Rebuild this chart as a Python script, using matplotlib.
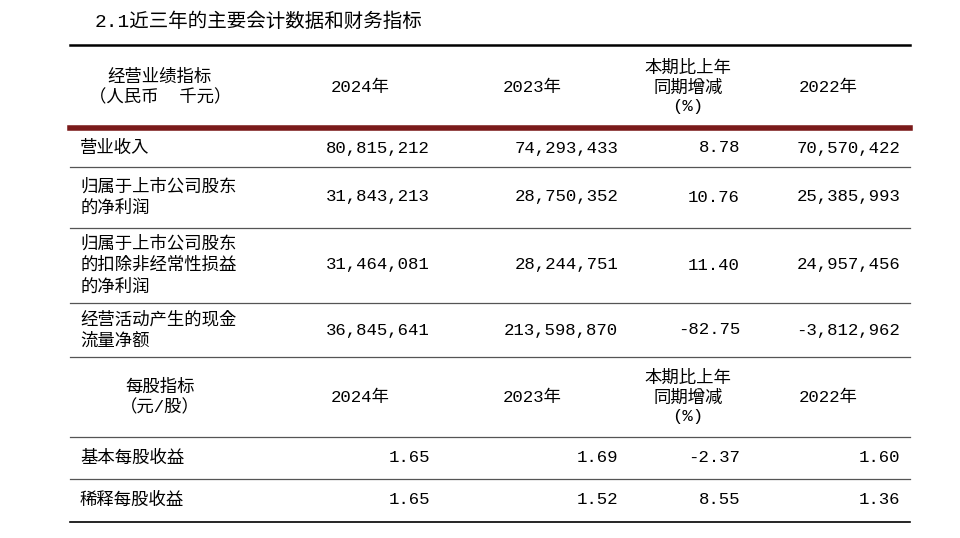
import matplotlib
matplotlib.use("Agg")
import matplotlib.pyplot as plt

title = "2.1近三年的主要会计数据和财务指标"
header1 = ["经营业绩指标\n（人民币  千元）", "2024年", "2023年", "本期比上年\n同期增减\n(%)", "2022年"]
row_labels = ["营业收入", "归属于上市公司股东\n的净利润", "归属于上市公司股东\n的扣除非经常性损益\n的净利润", "经营活动产生的现金\n流量净额"]
v2024 = ["80,815,212", "31,843,213", "31,464,081", "36,845,641"]
v2023 = ["74,293,433", "28,750,352", "28,244,751", "213,598,870"]
vpct = ["8.78", "10.76", "11.40", "-82.75"]
v2022 = ["70,570,422", "25,385,993", "24,957,456", "-3,812,962"]
header2 = ["每股指标\n（元/股）", "2024年", "2023年", "本期比上年\n同期增减\n(%)", "2022年"]
eps_labels = ["基本每股收益", "稀释每股收益"]
e2024 = ["1.65", "1.65"]
e2023 = ["1.69", "1.52"]
epct = ["-2.37", "8.55"]
e2022 = ["1.60", "1.36"]

cjk = ["Noto Sans CJK SC", "Noto Sans CJK JP", "Noto Sans CJK TC", "Noto Sans CJK KR", "DejaVu Sans"]
mono = ["Liberation Mono", "DejaVu Sans Mono"]
plt.rcParams["font.family"] = cjk
fig = plt.figure(figsize=(9.6, 5.38), dpi=100)
ax = fig.add_axes([0, 0, 1, 1])
ax.set_xlim(0, 960); ax.set_ylim(538, 0); ax.axis("off")

fs = 12.5
ax.text(95, 22, title, fontsize=14, va="center", ha="left", family=mono + cjk)
x0, x1 = 70, 910
ax.plot([x0, x1], [45, 45], color="black", lw=1.8)
ax.plot([x0, x1], [128, 128], color="#7a1a1a", lw=4)
for y in [167, 228, 303, 357, 437, 479]:
    ax.plot([x0, x1], [y, y], color="#555555", lw=0.9)
ax.plot([x0, x1], [522, 522], color="black", lw=1.2)

hx = [160, 360, 532, 688, 828]
def header(h, yc):
    for x, t in zip(hx, h):
        ax.text(x, yc, t, fontsize=fs, ha="center", va="center", linespacing=1.3,
                family=mono + cjk)
header(header1, 87)
header(header2, 397)

rx = [430, 618, 740, 900]
def rows(labels, cols, ys):
    for i, (lab, yc) in enumerate(zip(labels, ys)):
        ax.text(80, yc, lab, fontsize=fs, ha="left", va="center", linespacing=1.25)
        for x, c in zip(rx, cols):
            ax.text(x, yc, c[i], fontsize=fs, ha="right", va="center", family=mono)
rows(row_labels, [v2024, v2023, vpct, v2022], [148, 197, 265, 330])
rows(eps_labels, [e2024, e2023, epct, e2022], [458, 500])

fig.savefig("out.png", dpi=100)
